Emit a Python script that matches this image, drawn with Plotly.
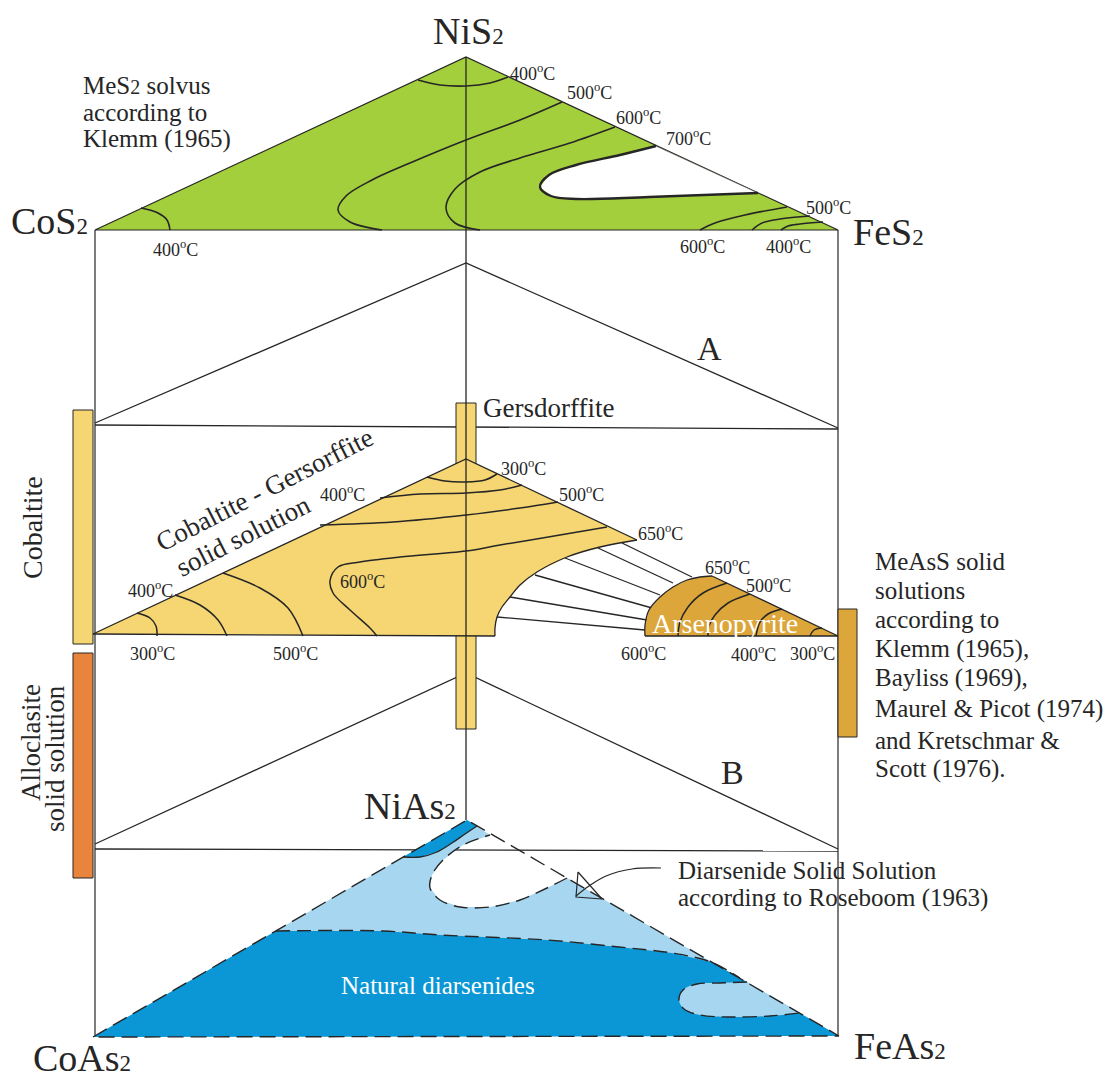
import plotly.graph_objects as go

W, H = 1109, 1080
INK = "#262626"
SERIF = "Liberation Serif, Times New Roman, serif"

GREEN = "#a4cf3c"
YELLOW = "#f6d672"
GOLD = "#dca63a"
ORANGE = "#e8843c"
LIGHT_BLUE = "#a7d6f0"
DARK_BLUE = "#0b97d5"

# ---- end-member sulfide triangle (CoS2 - NiS2 - FeS2) ----
sulf_tri_x = [95, 466, 838]
sulf_tri_y = [230, 57, 230]

solvus_400_top_x = [418, 440, 466, 490, 508]
solvus_400_top_y = [80, 85, 86, 83, 77]
solvus_500_x = [562, 520, 466, 410, 372, 346, 338, 350, 382]
solvus_500_y = [102, 120, 140, 163, 180, 196, 210, 222, 230]
solvus_600_x = [615, 570, 520, 480, 455, 446, 455, 480]
solvus_600_y = [127, 143, 158, 172, 189, 208, 223, 230]
solvus_700_x = [656, 620, 576, 549, 540, 551, 576, 649, 758]
solvus_700_y = [146, 155, 165, 175, 187, 196, 199, 197, 193]
solvus_fe_a_x = [787, 745, 715, 700]
solvus_fe_a_y = [207, 215, 223, 230]
solvus_fe_b_x = [810, 780, 762, 752]
solvus_fe_b_y = [216, 219, 223, 230]
solvus_fe_c_x = [823, 800, 788, 781]
solvus_fe_c_y = [222, 224, 226, 230]
solvus_co_x = [141, 158, 167, 170]
solvus_co_y = [208, 213, 220, 230]

sulf_labels = [("400", 532, 72), ("500", 589, 91), ("600", 638, 116), ("700", 688, 137),
               ("500", 828, 206), ("600", 702, 245), ("400", 788, 245), ("400", 175, 248)]

# ---- construction planes A and B ----
plane_a_x = [95, 466, 838]
plane_a_y = [423, 263, 428]
cross_a_x = [95, 838]
cross_a_y = [425, 429]
plane_b_x = [95, 466, 838]
plane_b_y = [844, 673, 849]
cross_b_x = [95, 838]
cross_b_y = [849, 851]

# ---- MeAsS (cobaltite - gersdorffite - arsenopyrite) section ----
cgs_x = [93, 466, 637, 600, 567, 537, 520, 510, 502, 497, 495, 495, 93]
cgs_y = [634, 459, 540, 547, 557, 572, 585, 597, 607, 617, 628, 636, 634]
cgs_curve_x = [637, 600, 567, 537, 520, 510, 502, 497, 495, 495]
cgs_curve_y = [540, 547, 557, 572, 585, 597, 607, 617, 628, 636]

iso_300_x = [427, 445, 466, 485, 497]
iso_300_y = [477, 481, 482, 480, 474]
iso_400_x = [380, 420, 466, 500, 522]
iso_400_y = [498, 494, 493, 490, 485]
iso_500_x = [320, 393, 466, 520, 558]
iso_500_y = [525, 522, 515, 508, 502]
iso_600_x = [607, 560, 500, 466, 400, 360, 338, 330, 333, 350, 370, 377]
iso_600_y = [527, 535, 545, 551, 557, 562, 567, 581, 593, 610, 628, 636]
arc_300_x = [137, 150, 156, 157]
arc_300_y = [613, 618, 626, 636]
arc_400_x = [175, 200, 218, 227]
arc_400_y = [595, 605, 620, 636]
arc_500_x = [223, 260, 288, 303]
arc_500_y = [573, 588, 608, 636]

tie_x0 = [622, 598, 565, 535, 510, 497]
tie_y0 = [543, 548, 558, 575, 597, 617]
tie_x1 = [692, 673, 660, 652, 647, 645]
tie_y1 = [577, 583, 595, 608, 620, 630]

aspy_x = [645, 645, 649, 660, 673, 687, 700, 712, 838, 645]
aspy_y = [636, 625, 610, 597, 587, 580, 577, 576, 636, 636]
aspy_iso_1_x = [727, 703, 688, 680, 678]
aspy_iso_1_y = [583, 593, 607, 622, 636]
aspy_iso_2_x = [750, 728, 715, 709, 708]
aspy_iso_2_y = [594, 603, 615, 626, 636]
aspy_iso_3_x = [782, 768, 760, 756]
aspy_iso_3_y = [609, 614, 622, 636]
aspy_iso_4_x = [822, 814, 810]
aspy_iso_4_y = [628, 630, 636]

meass_labels = [("300", 523, 467), ("400", 342, 493), ("500", 581, 493), ("650", 660, 532),
                ("600", 362, 580), ("400", 150, 589), ("300", 152, 652), ("500", 295, 652),
                ("650", 727, 566), ("500", 768, 584), ("600", 643, 652), ("400", 753, 653),
                ("300", 812, 652)]

# side bars (range of natural compositions)
cobaltite_bar = (73, 93, 410, 644)
alloclasite_bar = (73, 93, 653, 878)
gersdorffite_bar = (456, 476, 403, 729)
arsenopyrite_bar = (838, 857, 609, 737)

# ---- diarsenide triangle (CoAs2 - NiAs2 - FeAs2) ----
ars_tri_x = [93, 467, 839]
ars_tri_y = [1037, 820, 1036]

ss_x = [467, 93, 839, 567, 547, 520, 490, 460, 440, 430, 432, 443, 463, 490, 467]
ss_y = [820, 1037, 1036, 878, 888, 900, 907, 907, 900, 888, 875, 860, 845, 835, 820]
gap_x = [567, 547, 520, 490, 460, 440, 430, 432, 443, 463, 490]
gap_y = [878, 888, 900, 907, 907, 900, 888, 875, 860, 845, 835]
ni_strip_x = [467, 403, 420, 437, 452, 465, 477, 467]
ni_strip_y = [820, 857, 857, 852, 843, 834, 826, 820]
ni_strip_curve_x = [403, 420, 437, 452, 465, 477]
ni_strip_curve_y = [857, 857, 852, 843, 834, 826]
natural_x = [276, 93, 839, 740, 711, 672, 619, 547, 440, 383, 276]
natural_y = [931, 1037, 1036, 978, 962, 953, 947, 940, 935, 931, 931]
natural_top_x = [276, 383, 440, 547, 619, 672, 711, 740]
natural_top_y = [931, 931, 935, 940, 947, 953, 962, 978]
lobe_x = [747, 720, 697, 683, 679, 684, 700, 730, 770, 800]
lobe_y = [982, 983, 984, 990, 1000, 1009, 1015, 1017, 1016, 1013]

arrow_x = [661, 632, 606, 589, 576]
arrow_y = [868, 869, 876, 886, 896]
arrow_head_x = [578, 576, 602, 578]
arrow_head_y = [872, 897, 899, 872]

# text blocks, one entry per printed line
solvus_note = ["MeS<span style='font-size:20px'>2</span> solvus", "according to", "Klemm (1965)"]
solvus_note_y = [85, 112, 139]
meass_note = ["MeAsS solid", "solutions", "according to", "Klemm (1965),", "Bayliss (1969),",
              "Maurel &amp; Picot (1974)", "and Kretschmar &amp;", "Scott (1976)."]
meass_note_y = [561, 590, 619, 649, 678, 709, 740, 769]
roseboom_note = ["Diarsenide Solid Solution", "according to Roseboom (1963)"]
roseboom_note_y = [870, 898]

fig = go.Figure()


def poly(xs, ys, fill, line_color=INK, width=1.2, shape="linear"):
    fig.add_trace(go.Scatter(x=list(xs), y=list(ys), mode="lines", fill="toself",
                             fillcolor=fill, line=dict(color=line_color, width=width, shape=shape),
                             hoverinfo="skip", showlegend=False))


def line(xs, ys, width=1.3, dash="solid", shape="linear", color=INK):
    fig.add_trace(go.Scatter(x=list(xs), y=list(ys), mode="lines",
                             line=dict(color=color, width=width, dash=dash, shape=shape,
                                       smoothing=1.0),
                             hoverinfo="skip", showlegend=False))


def bar(box, fill):
    x0, x1, y0, y1 = box
    poly([x0, x1, x1, x0, x0], [y0, y0, y1, y1, y0], fill, width=1.0)


def text(s, x, y, size, color=INK, xanchor="center", angle=0, align="center"):
    fig.add_annotation(x=x, y=y, xref="x", yref="y", text=s, showarrow=False,
                       font=dict(family=SERIF, size=size, color=color),
                       xanchor=xanchor, yanchor="middle", textangle=angle, align=align)


def temp(t, x, y):
    text(f"{t}<sup>o</sup>C", x, y, 18)


def formula(base, x, y):
    text(f"{base}<span style='font-size:23px'>2</span>", x, y, 38)


# sulfide triangle with solvus isotherms
poly(sulf_tri_x + [sulf_tri_x[0]], sulf_tri_y + [sulf_tri_y[0]], GREEN)
poly(solvus_700_x + [solvus_700_x[0]], solvus_700_y + [solvus_700_y[0]], "white",
     line_color="rgba(0,0,0,0)", width=0)
line([solvus_700_x[0], solvus_700_x[-1]], [solvus_700_y[0], solvus_700_y[-1]], width=0.7,
     color="#555")
for xs, ys in [(solvus_400_top_x, solvus_400_top_y), (solvus_500_x, solvus_500_y),
               (solvus_600_x, solvus_600_y), (solvus_fe_a_x, solvus_fe_a_y),
               (solvus_fe_b_x, solvus_fe_b_y), (solvus_fe_c_x, solvus_fe_c_y),
               (solvus_co_x, solvus_co_y)]:
    line(xs, ys, width=1.6, shape="spline")
line(solvus_700_x, solvus_700_y, width=2.4, shape="spline")

# frame of the prism
line([95, 95], [230, 1037], width=1.2)
line([838, 838], [230, 1036], width=1.2)

# planes A and B
line(plane_a_x, plane_a_y, width=1.3)
line(cross_a_x, cross_a_y, width=1.3)
line(plane_b_x, plane_b_y, width=1.3)
line(cross_b_x, cross_b_y, width=1.3)

# composition bars
bar(gersdorffite_bar, YELLOW)
bar(cobaltite_bar, YELLOW)
bar(alloclasite_bar, ORANGE)
bar(arsenopyrite_bar, GOLD)

# MeAsS section
for x0, y0, x1, y1 in zip(tie_x0, tie_y0, tie_x1, tie_y1):
    line([x0, x1], [y0, y1], width=1.3)
poly(cgs_x, cgs_y, YELLOW, line_color="rgba(0,0,0,0)", width=0)
line([93, 466, 637], [634, 459, 540], width=1.3)
line([495, 93], [636, 634], width=1.3)
line(cgs_curve_x, cgs_curve_y, width=1.3, shape="spline")
poly(aspy_x, aspy_y, GOLD, line_color="rgba(0,0,0,0)", width=0)
line(aspy_x[:8], aspy_y[:8], width=1.3, shape="spline")
line([712, 838, 645], [576, 636, 636], width=1.3)
for xs, ys in [(iso_300_x, iso_300_y), (iso_400_x, iso_400_y), (iso_500_x, iso_500_y),
               (iso_600_x, iso_600_y), (arc_300_x, arc_300_y), (arc_400_x, arc_400_y),
               (arc_500_x, arc_500_y), (aspy_iso_1_x, aspy_iso_1_y),
               (aspy_iso_2_x, aspy_iso_2_y), (aspy_iso_3_x, aspy_iso_3_y),
               (aspy_iso_4_x, aspy_iso_4_y)]:
    line(xs, ys, width=1.5, shape="spline")

# diarsenide triangle
poly(ss_x, ss_y, LIGHT_BLUE, line_color="rgba(0,0,0,0)", width=0)
poly(ni_strip_x, ni_strip_y, DARK_BLUE, line_color="rgba(0,0,0,0)", width=0)
line(ni_strip_curve_x, ni_strip_curve_y, width=1.3, shape="spline")
poly(natural_x, natural_y, DARK_BLUE, line_color="rgba(0,0,0,0)", width=0)
poly(lobe_x, lobe_y, LIGHT_BLUE, line_color="rgba(0,0,0,0)", width=0, shape="spline")
line(lobe_x, lobe_y, width=1.4, dash="14px,7px", shape="spline")
line(natural_top_x, natural_top_y, width=1.4, dash="14px,7px", shape="spline")
line(gap_x, gap_y, width=1.4, dash="14px,7px", shape="spline")
line(ars_tri_x + [ars_tri_x[0]], ars_tri_y + [ars_tri_y[0]], width=1.4, dash="16px,7px")

# central NiS2 - NiAs2 edge
line([466, 466], [57, 820], width=1.3)

# pointer to the Roseboom field
line(arrow_x, arrow_y, width=1.2, shape="spline")
line(arrow_head_x, arrow_head_y, width=1.2)

# labels
for t, x, y in sulf_labels + meass_labels:
    temp(t, x, y)

formula("NiS", 468, 31)
formula("CoS", 49, 221)
formula("FeS", 888, 232)
formula("NiAs", 410, 806)
formula("CoAs", 82, 1058)
formula("FeAs", 900, 1046)
text("A", 709, 348, 34)
text("B", 732, 772, 34)

for s, y in zip(solvus_note, solvus_note_y):
    text(s, 81, y, 25, xanchor="left")
for s, y in zip(meass_note, meass_note_y):
    text(s, 873, y, 25, xanchor="left")
for s, y in zip(roseboom_note, roseboom_note_y):
    text(s, 676, y, 25, xanchor="left")

text("Gersdorffite", 481, 408, 27, xanchor="left")
text("Cobaltite", 32, 528, 28, angle=-90)
text("Alloclasite", 31, 743, 27, angle=-90)
text("solid solution", 55, 759, 27, angle=-90)
text("Cobaltite - Gersorffite", 264, 490, 27, angle=-27)
text("solid solution", 243, 536, 27, angle=-27)
text("Arsenopyrite", 725, 623, 28, color="white")
text("Natural diarsenides", 438, 985, 25, color="white")

fig.update_layout(
    width=W, height=H, margin=dict(l=0, r=0, t=0, b=0),
    paper_bgcolor="white", plot_bgcolor="white",
    xaxis=dict(range=[0, W], visible=False, fixedrange=True),
    yaxis=dict(range=[H, 0], visible=False, fixedrange=True),
    showlegend=False,
)

fig.write_html("out.html")
